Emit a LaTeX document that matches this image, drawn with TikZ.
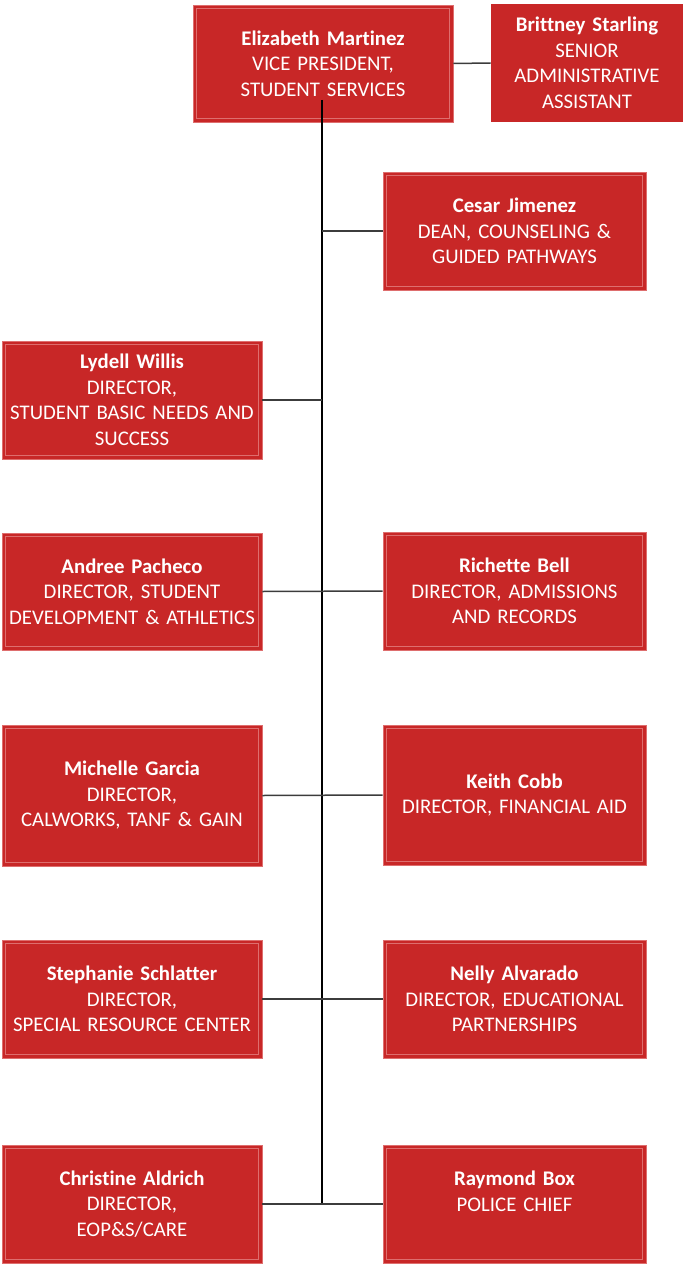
\documentclass[tikz,border=0pt]{standalone}
\usepackage{fontspec}
\setmainfont{Carlito}[Ligatures=NoCommon, WordSpace=0.7]
\definecolor{boxred}{RGB}{200,39,39}
\definecolor{edgered}{RGB}{222,110,110}
\definecolor{conngray}{RGB}{60,60,60}
\begin{document}
\begin{tikzpicture}[x=1pt,y=-1pt,
  person/.style={fill=boxred, draw=edgered, line width=0.6pt, text=white, inner sep=0pt,
    align=center, font=\fontsize{20.8}{25.5}\selectfont},
  inset/.style={draw=edgered, line width=0.8pt},
  trunk/.style={draw=black, line width=1.6pt},
  conn/.style={draw=conngray, line width=1.5pt}]
\useasboundingbox (0,0) rectangle (686,1268);
% nodes: center at box centre, sizes from reference
\node[person, minimum width=260, minimum height=117, text width=258] (em) at (323,63.5)
  {\textbf{Elizabeth Martinez}\\VICE PRESIDENT,\\STUDENT SERVICES};
\node[person, draw=none, minimum width=192, minimum height=118, text width=192] (bs) at (587,63)
  {\textbf{Brittney Starling}\\SENIOR\\ADMINISTRATIVE\\ASSISTANT};
\node[person, minimum width=263, minimum height=118, text width=261] (cj) at (514.5,231)
  {\textbf{Cesar Jimenez}\\DEAN, COUNSELING \&\\GUIDED PATHWAYS};
\node[person, minimum width=260, minimum height=118, text width=258] (lw) at (132,400)
  {\textbf{Lydell Willis}\\DIRECTOR,\\STUDENT BASIC NEEDS AND\\SUCCESS};
\node[person, minimum width=260, minimum height=117, text width=258] (ap) at (132,591.5)
  {\textbf{Andree Pacheco}\\DIRECTOR, STUDENT\\DEVELOPMENT \& ATHLETICS};
\node[person, minimum width=263, minimum height=118, text width=261] (rb) at (514.5,591)
  {\textbf{Richette Bell}\\DIRECTOR, ADMISSIONS\\AND RECORDS};
\node[person, minimum width=260, minimum height=141, text width=258] (mg) at (132,795.5)
  {\textbf{Michelle Garcia}\\DIRECTOR,\\CALWORKS, TANF \& GAIN};
\node[person, minimum width=263, minimum height=140, text width=261] (kc) at (514.5,795)
  {\textbf{Keith Cobb}\\DIRECTOR, FINANCIAL AID};
\node[person, minimum width=260, minimum height=118, text width=258] (ss) at (132,999)
  {\textbf{Stephanie Schlatter}\\DIRECTOR,\\SPECIAL RESOURCE CENTER};
\node[person, minimum width=263, minimum height=118, text width=261] (na) at (514.5,999)
  {\textbf{Nelly Alvarado}\\DIRECTOR, EDUCATIONAL\\PARTNERSHIPS};
\node[person, minimum width=260, minimum height=118, text width=258] (ca) at (132,1204)
  {\textbf{Christine Aldrich}\\DIRECTOR,\\EOP\&S/CARE};
\node[person, minimum width=263, minimum height=118, text width=261] (rx) at (514.5,1204)
  {\textbf{Raymond Box}\\POLICE CHIEF\\\mbox{}};
% inset borders
\foreach \n in {em,cj,lw,ap,rb,mg,kc,ss,na,ca,rx}
  \draw[inset] ([shift={(3.5,3.5)}]\n.north west) rectangle ([shift={(-3.5,-3.5)}]\n.south east);
% trunk
\coordinate (t0) at (322,100);
\coordinate (t1) at (322,1204);
\draw[trunk] (t0) -- (t1);
% connectors
\draw[conn] (em.east) -- (bs.west);
\draw[conn] (cj.west) -- (cj.west -| t0);
\draw[conn] (lw.east) -- (lw.east -| t0);
\draw[conn] (ap.east) -- (rb.west);
\draw[conn] (mg.east) -- (kc.west);
\draw[conn] (ss.east) -- (na.west);
\draw[conn] (ca.east) -- (rx.west);
\end{tikzpicture}
\end{document}
